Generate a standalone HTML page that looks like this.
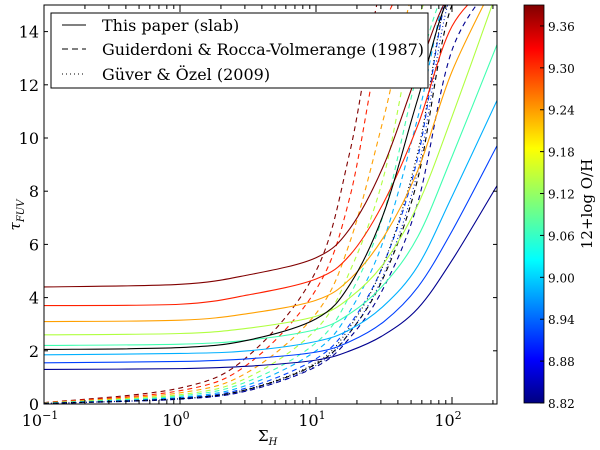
<!DOCTYPE html>
<html><head><meta charset="utf-8"><style>
html,body{margin:0;padding:0;background:#fff;}
svg{display:block;font-family:"DejaVu Serif","Liberation Serif",serif;}
</style></head><body>
<svg id="chart" width="600" height="450" viewBox="0 0 600 450">
<defs>
<linearGradient id="jet" x1="0" y1="1" x2="0" y2="0">
<stop offset="0" stop-color="#000080"/><stop offset="0.11" stop-color="#0000ff"/>
<stop offset="0.36" stop-color="#00ffff"/><stop offset="0.5" stop-color="#7dff7a"/>
<stop offset="0.64" stop-color="#ffff00"/><stop offset="0.89" stop-color="#ff0000"/>
<stop offset="1" stop-color="#800000"/></linearGradient>
<clipPath id="plotclip"><rect x="44" y="5" width="453" height="399"/></clipPath>
</defs>
<g id="curves" clip-path="url(#plotclip)"></g>
<rect x="44" y="5" width="453" height="399" fill="none" stroke="#000" stroke-width="1"/>
<g id="axes"></g>
<g>
<rect x="51" y="13" width="377" height="75" fill="#fff" stroke="#000" stroke-width="1"/>
<line x1="62" y1="25" x2="86" y2="25" stroke="#000"/>
<text x="102" y="31" font-size="16">This paper (slab)</text>
<line x1="62" y1="49" x2="86" y2="49" stroke="#000" stroke-dasharray="6,4"/>
<text x="102" y="55" font-size="16" textLength="322">Guiderdoni &amp; Rocca-Volmerange (1987)</text>
<line x1="62" y1="74" x2="86" y2="74" stroke="#000" stroke-dasharray="1,3"/>
<text x="102" y="80" font-size="16">Güver &amp; Özel (2009)</text>
</g>
<rect x="524" y="5" width="20" height="398" fill="url(#jet)" stroke="#000" stroke-width="0.8"/>
<g id="cbticks"></g>
<text transform="translate(592,204) rotate(-90)" text-anchor="middle" font-size="15">12+log O/H</text>
<text transform="translate(20,215) rotate(-90)" text-anchor="middle" font-size="15" font-style="italic">τ<tspan font-size="10" dy="4">FUV</tspan></text>
<text x="258" y="441" font-size="15">Σ<tspan font-size="10" dy="4" font-style="italic">H</tspan></text>
</svg>
<script>
const gridLogX = [-1, 0, 0.5, 1, 1.25, 1.5, 1.75, 2, 2.33];
const yTicks = [0, 2, 4, 6, 8, 10, 12, 14];
const xTickExps = [-1, 0, 1, 2];
const cbTicks = ["8.82","8.88","8.94","9.00","9.06","9.12","9.18","9.24","9.30","9.36"];
const seriesColors = ["#800000","#ff2000","#ffa000","#b0ff40","#40ffb0","#00b0ff","#0040ff","#000090"];
const slabDarkRed = [4.4,4.5,4.85,5.5,6.6,9.0,12.5,15.5,16];
const slabRed = [3.7,3.75,4.1,4.7,5.6,7.6,10.5,14.2,16];
const slabOrange = [3.1,3.15,3.4,3.9,4.7,6.3,8.8,12.5,16];
const slabYellow = [2.6,2.65,2.85,3.3,4.0,5.3,7.5,10.8,15.5];
const slabGreen = [2.2,2.25,2.4,2.8,3.4,4.5,6.3,9.3,13.5];
const slabCyan = [1.85,1.9,2.0,2.35,2.8,3.7,5.2,7.8,11.4];
const slabBlue = [1.55,1.6,1.7,1.95,2.35,3.1,4.4,6.5,9.7];
const slabDarkBlue = [1.3,1.33,1.42,1.65,2.0,2.6,3.6,5.4,8.2];
const slabBlack = [2.05,2.12,2.4,3.2,4.5,7.2,11.5,15.5,16];
const grvDarkRed = [0.05,0.6,1.8,5.0,9.5,16,16,16,16];
const grvRed = [0.05,0.5,1.5,4.3,7.8,14.2,16,16,16];
const grvOrange = [0.04,0.42,1.2,3.4,6.1,10.8,16,16,16];
const grvYellow = [0.035,0.35,1.0,2.8,5.0,8.6,14.5,16,16];
const grvGreen = [0.03,0.3,0.85,2.3,4.1,7.2,12.5,16,16];
const grvCyan = [0.025,0.25,0.72,2.0,3.5,6.2,10.8,16,16];
const grvLightBlue = [0.02,0.22,0.62,1.7,3.0,5.3,9.3,16,16];
const grvBlue = [0.018,0.18,0.5,1.4,2.5,4.4,7.6,13.3,16];
const grvBlack = [0.02,0.2,0.55,1.5,2.7,4.8,8.5,15,16];
const guverBlack = [0.02,0.2,0.56,1.55,2.9,5.3,9.5,16,16];
const guverBlue = [0.018,0.19,0.52,1.45,2.7,4.9,8.8,15.5,16];

const NS='http://www.w3.org/2000/svg';
const X0=44, DEC=136, YB=404, YS=26.6;
function xs(lx){return X0+(lx+1)*DEC;}
function ys(v){return YB-v*YS;}
function pathFor(vals){
  const p=vals.map((v,i)=>[xs(gridLogX[i]),ys(v)]);
  let d='M'+p[0][0]+','+p[0][1];
  for(let i=0;i<p.length-1;i++){
    const a=p[Math.max(i-1,0)],b=p[i],c=p[i+1],e=p[Math.min(i+2,p.length-1)];
    const c1=[b[0]+(c[0]-a[0])/6,b[1]+(c[1]-a[1])/6];
    const c2=[c[0]-(e[0]-b[0])/6,c[1]-(e[1]-b[1])/6];
    d+=' C'+c1[0]+','+c1[1]+' '+c2[0]+','+c2[1]+' '+c[0]+','+c[1];
  }
  return d;
}
const g=document.getElementById('curves');
function addCurve(vals,color,dash,name){
  const el=document.createElementNS(NS,'path');
  el.setAttribute('d',pathFor(vals));
  el.setAttribute('fill','none');
  el.setAttribute('stroke',color);
  el.setAttribute('stroke-width','1.1');
  if(dash) el.setAttribute('stroke-dasharray',dash);
  
  
  g.appendChild(el);
}
const grv=[grvDarkRed,grvRed,grvOrange,grvYellow,grvGreen,grvCyan,grvLightBlue,grvBlue];
grv.forEach((s,i)=>addCurve(s,seriesColors[i],'5,4','grv-curve-'+i));
addCurve(grvBlack,'#000','5,4','grv-curve-black');
addCurve(guverBlack,'#000','1,2.5','guver-curve-black');
addCurve(guverBlue,'#0020c0','1,2.5','guver-curve-blue');
const slab=[slabDarkRed,slabRed,slabOrange,slabYellow,slabGreen,slabCyan,slabBlue,slabDarkBlue];
slab.forEach((s,i)=>addCurve(s,seriesColors[i],null,'slab-curve-'+i));
addCurve(slabBlack,'#000',null,'slab-curve-black');

const ax=document.getElementById('axes');
function mk(tag,attrs,parent){const e=document.createElementNS(NS,tag);for(const k in attrs)e.setAttribute(k,attrs[k]);parent.appendChild(e);return e;}
yTicks.forEach(t=>{
  const y=ys(t);
  mk('line',{x1:44,x2:48,y1:y,y2:y,stroke:'#000'},ax);
  mk('line',{x1:493,x2:497,y1:y,y2:y,stroke:'#000'},ax);
  const tx=mk('text',{x:39,y:y+6,'text-anchor':'end','font-size':'16'},ax);
  tx.textContent=t;
  
  
});
xTickExps.forEach(e=>{
  const x=xs(e);
  mk('line',{x1:x,x2:x,y1:404,y2:397,stroke:'#000'},ax);
  mk('line',{x1:x,x2:x,y1:5,y2:12,stroke:'#000'},ax);
  for(let m=2;m<10;m++){const xm=xs(e+Math.log10(m));if(xm<497){
    mk('line',{x1:xm,x2:xm,y1:404,y2:400,stroke:'#000'},ax);
    mk('line',{x1:xm,x2:xm,y1:5,y2:9,stroke:'#000'},ax);}}
  const tx=mk('text',{x:x-4,y:426,'text-anchor':'middle','font-size':'16'},ax);
  tx.textContent='10';
  const sp=mk('tspan',{'font-size':'11',dy:'-7'},tx);sp.textContent=String(e).replace('-','\u2212');
  
  
});
const cb=document.getElementById('cbticks');
cbTicks.forEach(t=>{
  const y=403-(parseFloat(t)-8.82)/0.57*398;
  mk('line',{x1:540,x2:544,y1:y,y2:y,stroke:'#000'},cb);
  const tx=mk('text',{x:548,y:y+5,'font-size':'12'},cb);
  tx.textContent=t;
  
  
});
</script>
</body></html>
